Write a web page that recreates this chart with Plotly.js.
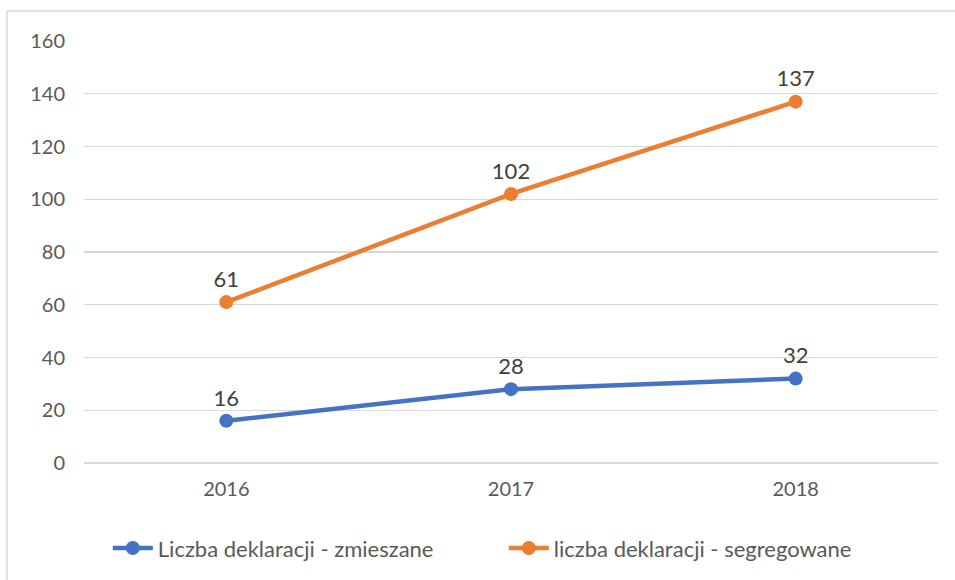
<!DOCTYPE html>
<html>
<head>
<meta charset="utf-8">
<script src="https://cdn.plot.ly/plotly-3.0.1.min.js"></script>
<style>
html,body{margin:0;padding:0;background:#fff;}
#chart{width:955px;height:580px;}
</style>
</head>
<body>
<div id="chart"></div>
<script>
const years = ["2016", "2017", "2018"];
const zmieszane = [16, 28, 32];
const segregowane = [61, 102, 137];
const seriesNames = ["Liczba deklaracji - zmieszane", "liczba deklaracji - segregowane"];
const yTicks = [0, 20, 40, 60, 80, 100, 120, 140, 160];

const FONT = "Lato, 'Open Sans', sans-serif";

function trace(vals, name, color) {
  return {
    x: years, y: vals, name: name, type: "scatter", mode: "lines+markers+text",
    text: vals.map(String), textposition: "top center",
    textfont: {family: FONT, size: 22, color: "#404040"},
    line: {color: color, width: 4.5},
    marker: {color: color, size: 14},
    cliponaxis: false
  };
}

const data = [
  trace(zmieszane, seriesNames[0], "#4472C4"),
  trace(segregowane, seriesNames[1], "#ED7D31")
];

const layout = {
  width: 955, height: 580,
  margin: {l: 84, r: 17, t: 41, b: 116},
  paper_bgcolor: "#ffffff", plot_bgcolor: "#ffffff",
  font: {family: FONT, color: "#595959"},
  showlegend: true,
  legend: {
    orientation: "h", x: 0.4916, xanchor: "center", y: -0.199, yanchor: "middle",
    font: {family: FONT, size: 22, color: "#595959"},
    itemwidth: 40, entrywidth: 341, traceorder: "normal"
  },
  xaxis: {
    type: "category", range: [-0.5, 2.5],
    showgrid: false, zeroline: false, showline: false, ticks: "",
    tickfont: {family: FONT, size: 20, color: "#595959"},
    ticklabelstandoff: 12
  },
  yaxis: {
    range: [0, 160], tickvals: yTicks, ticktext: yTicks.map(String),
    showgrid: true, gridcolor: "#d9d9d9", gridwidth: 1.3,
    zeroline: true, zerolinecolor: "#d9d9d9", zerolinewidth: 1.3,
    showline: false, ticks: "",
    tickfont: {family: FONT, size: 20, color: "#595959"},
    ticklabelstandoff: 18
  },
  shapes: [
    {type: "line", xref: "paper", yref: "paper", x0: -0.0902, x1: 1.03, y0: 1.0709, y1: 1.0709,
     line: {color: "#d9d9d9", width: 1.5}},
    {type: "line", xref: "paper", yref: "paper", x0: -0.0902, x1: -0.0902, y0: 1.0709, y1: -0.3,
     line: {color: "#d9d9d9", width: 1.5}}
  ]
};

Plotly.newPlot("chart", data, layout, {staticPlot: true, displayModeBar: false});
</script>
</body>
</html>
